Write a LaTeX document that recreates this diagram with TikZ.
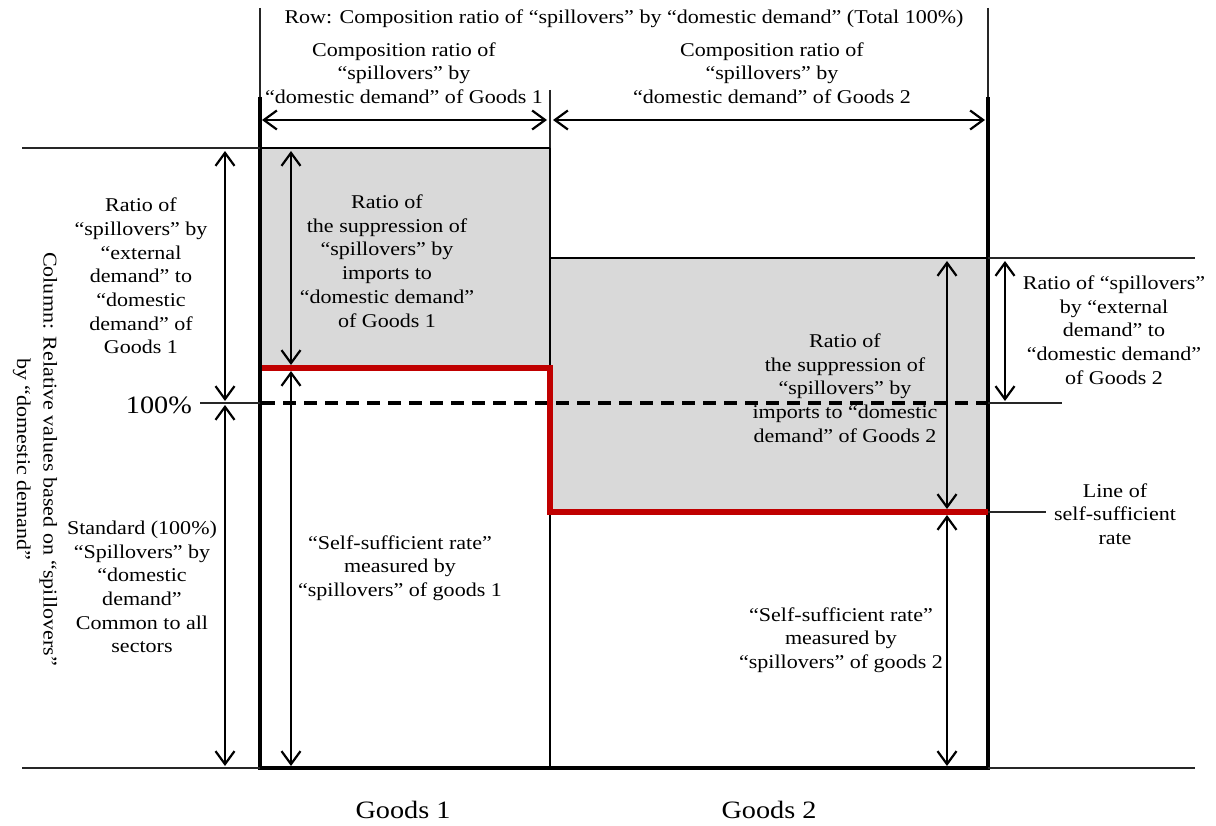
\documentclass[tikz,border=0pt]{standalone}
\usepackage{fontspec}
\setmainfont{Liberation Serif}[FakeStretch=1.13]
\usetikzlibrary{arrows.meta}
\definecolor{boxgray}{HTML}{D9D9D9}
\definecolor{selfred}{HTML}{C00000}
\begin{document}
\begin{tikzpicture}[x=1pt,y=-1pt,
  thinline/.style={line width=1.2pt, black!85},
  boxline/.style={line width=2.3pt},
  heavyline/.style={line width=3.6pt},
  redline/.style={line width=6pt, selfred},
  hundred/.style={line width=3.6pt, dash pattern=on 13pt off 8pt},
  barb/.style={Straight Barb[length=13pt,width=19pt,line width=2.2pt]},
  dim/.style={line width=2.2pt, {Straight Barb[length=13pt,width=19pt,line width=2.2pt]}-{Straight Barb[length=13pt,width=19pt,line width=2.2pt]}},
  lbl/.style={align=center, inner sep=0pt, font=\fontsize{19.5}{23.7}\selectfont},
  big/.style={inner sep=0pt, font=\fontsize{25}{28}\selectfont},
]
\useasboundingbox (0,0) rectangle (1216,826);

% shaded areas of the two goods
\fill[boxgray] (260,148) rectangle (550,368);
\fill[boxgray] (550,258) rectangle (988,512);

% frame of the chart
\draw[thinline] (260,8) -- (260,97);
\draw[thinline] (988,8) -- (988,97);
\draw[thinline] (550,90) -- (550,148);
\draw[heavyline] (260,97) -- (260,769.8);
\draw[heavyline] (988,97) -- (988,769.8);
\draw[boxline] (550,148) -- (550,768);
\draw[boxline] (258.2,148) -- (550,148);
\draw[boxline] (550,258) -- (988,258);
\draw[heavyline] (260,768) -- (988,768);

% reference lines outside the frame
\draw[thinline] (22,148) -- (260,148);
\draw[thinline] (22,768) -- (260,768);
\draw[thinline] (988,768) -- (1195,768);
\draw[thinline] (988,258) -- (1195,258);
\draw[thinline] (200,403) -- (260,403);
\draw[thinline] (988,403) -- (1062,403);
\draw[thinline] (988,512) -- (1046,512);

% 100% level
\draw[hundred] (262,403) -- (986,403);

% line of self-sufficient rate
\draw[redline] (261.8,368) -- (550,368) -- (550,512) -- (988,512);

% end points of the dimension arrows
\coordinate (topL) at (262,120);
\coordinate (topM) at (547,120);
\coordinate (topM2) at (553,120);
\coordinate (topR) at (985,120);
\coordinate (a1) at (225,151);
\coordinate (a2) at (225,401);
\coordinate (a3) at (225,405);
\coordinate (a4) at (225,766);
\coordinate (b1) at (291,151);
\coordinate (b2) at (291,365);
\coordinate (b3) at (291,371);
\coordinate (b4) at (291,766);
\coordinate (c1) at (947,261);
\coordinate (c2) at (947,509);
\coordinate (c3) at (947,515);
\coordinate (c4) at (947,766);
\coordinate (d1) at (1005,261);
\coordinate (d2) at (1005,401);

\draw[dim] (topL) -- (topM);
\draw[dim] (topM2) -- (topR);
\draw[dim] (a1) -- (a2);
\draw[dim] (a3) -- (a4);
\draw[dim] (b1) -- (b2);
\draw[dim] (b3) -- (b4);
\draw[dim] (c1) -- (c2);
\draw[dim] (c3) -- (c4);
\draw[dim] (d1) -- (d2);

% labels
\node[lbl] (rowttl) at (624,19) {Row: Composition ratio of “spillovers” by “domestic demand” (Total 100\%)};
\node[lbl] (comp1) at (404,73) {Composition ratio of\\“spillovers” by\\“domestic demand” of Goods 1};
\node[lbl] (comp2) at (772,73) {Composition ratio of\\“spillovers” by\\“domestic demand” of Goods 2};
\node[lbl, rotate=-90, font=\fontsize{19.5}{26.5}\selectfont] (colttl) at (35,459) {Column: Relative values based on “spillovers”\\by “domestic demand”};
\node[lbl] (ext1) at (141,276) {Ratio of\\“spillovers” by\\“external\\demand” to\\“domestic\\demand” of\\Goods 1};
\node[big, anchor=east] (pct) at (192,405) {100\%};
\node[lbl] (std) at (142,587) {Standard (100\%)\\“Spillovers” by\\“domestic\\demand”\\Common to all\\sectors};
\node[lbl] (sup1) at (387,261) {Ratio of\\the suppression of\\“spillovers” by\\imports to\\“domestic demand”\\of Goods 1};
\node[lbl] (self1) at (400,568) {“Self-sufficient rate”\\measured by\\“spillovers” of goods 1};
\node[lbl] (sup2) at (845,388) {Ratio of\\the suppression of\\“spillovers” by\\imports to “domestic\\demand” of Goods 2};
\node[lbl] (self2) at (841,640) {“Self-sufficient rate”\\measured by\\“spillovers” of goods 2};
\node[lbl] (ext2) at (1114,330) {Ratio of “spillovers”\\by “external\\demand” to\\“domestic demand”\\of Goods 2};
\node[lbl] (selfline) at (1115,514) {Line of\\self-sufficient\\rate};
\node[big] (g1) at (403,810) {Goods 1};
\node[big] (g2) at (769,810) {Goods 2};
\end{tikzpicture}
\end{document}
